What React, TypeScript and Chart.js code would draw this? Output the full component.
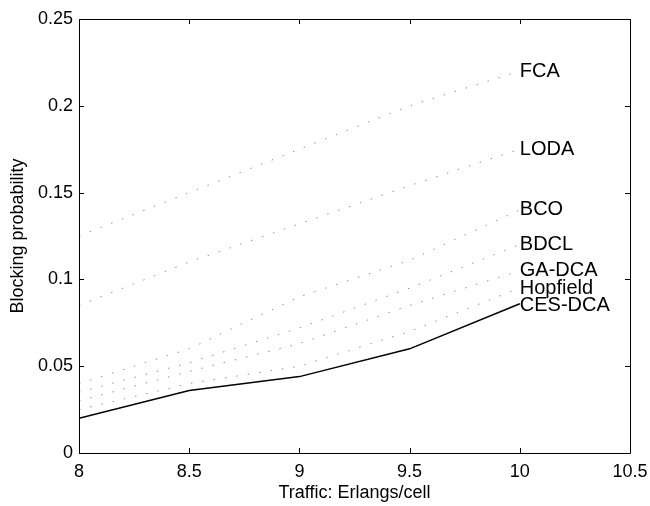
import React, { useEffect, useRef } from "react";
import { Chart, registerables } from "chart.js";

Chart.register(...registerables);

// ---- data ----
const traffic = [8, 8.5, 9, 9.5, 10];
const seriesNames = ["FCA", "LODA", "BCO", "BDCL", "GA-DCA", "Hopfield", "CES-DCA"];
const fca = [0.125, 0.15, 0.175, 0.2, 0.22];
const loda = [0.085, 0.11, 0.132, 0.154, 0.175];
const bco = [0.04, 0.06, 0.09, 0.111, 0.14];
const bdcl = [0.035, 0.052, 0.072, 0.095, 0.12];
const gaDca = [0.03, 0.047, 0.063, 0.085, 0.105];
const hopfield = [0.025, 0.04, 0.05, 0.07, 0.095];
const cesDca = [0.02, 0.036, 0.044, 0.06, 0.086];
const labelValues = [0.22, 0.175, 0.14, 0.12, 0.105, 0.095, 0.085];
const labelX = 10;
const xTicks = [8, 8.5, 9, 9.5, 10, 10.5];
const yTicks = [0, 0.05, 0.1, 0.15, 0.2, 0.25];
const xTitle = "Traffic: Erlangs/cell";
const yTitle = "Blocking probability";

const FONT = "'Liberation Sans', Arial, Helvetica, sans-serif";

export default function App() {
  const ref = useRef<HTMLCanvasElement | null>(null);

  useEffect(() => {
    document.body.style.margin = "0";
    const canvas = ref.current;
    if (!canvas) return;
    const allSeries = [fca, loda, bco, bdcl, gaDca, hopfield, cesDca];
    const datasets = allSeries.map((vals, i) => {
      const solid = i === allSeries.length - 1;
      return {
        label: seriesNames[i],
        data: traffic.map((x, j) => ({ x, y: vals[j] })),
        borderColor: solid ? "#000000" : "#909090",
        borderWidth: solid ? 1.5 : 1,
        borderDash: solid ? [] : [1.5, 10],
        pointRadius: 0,
        fill: false,
        tension: 0,
      };
    });

    const framePlugin = {
      id: "frame",
      afterDatasetsDraw(chart: any) {
        const { ctx, chartArea } = chart;
        const xs = chart.scales.x;
        const ys = chart.scales.y;
        const { left, right, top, bottom } = chartArea;
        ctx.save();
        ctx.strokeStyle = "#000";
        ctx.lineWidth = 1;
        ctx.beginPath();
        ctx.rect(Math.round(left) + 0.5, Math.round(top) + 0.5, Math.round(right - left), Math.round(bottom - top));
        ctx.stroke();
        const tl = 5;
        ctx.beginPath();
        xTicks.forEach((v) => {
          const px = Math.round(xs.getPixelForValue(v)) + 0.5;
          ctx.moveTo(px, bottom);
          ctx.lineTo(px, bottom - tl);
          ctx.moveTo(px, top);
          ctx.lineTo(px, top + tl);
        });
        yTicks.forEach((v) => {
          const py = Math.round(ys.getPixelForValue(v)) + 0.5;
          ctx.moveTo(left, py);
          ctx.lineTo(left + tl, py);
          ctx.moveTo(right, py);
          ctx.lineTo(right - tl, py);
        });
        ctx.stroke();
        // series labels
        ctx.fillStyle = "#000";
        ctx.font = `20px ${FONT}`;
        ctx.textAlign = "left";
        ctx.textBaseline = "middle";
        seriesNames.forEach((name, i) => {
          const px = xs.getPixelForValue(labelX);
          const py = ys.getPixelForValue(labelValues[i]);
          ctx.fillText(name, px, py);
        });
        ctx.restore();
      },
    };

    const chart = new Chart(canvas, {
      type: "line",
      data: { datasets: datasets as any },
      options: {
        animation: false,
        responsive: false,
        devicePixelRatio: 1,
        layout: { padding: { top: 19, right: 20, left: 0, bottom: 0 } },
        plugins: { legend: { display: false }, tooltip: { enabled: false } },
        scales: {
          x: {
            type: "linear",
            min: 8,
            max: 10.5,
            grid: { display: false, drawTicks: false },
            border: { display: false },
            afterBuildTicks: (s: any) => {
              s.ticks = xTicks.map((v) => ({ value: v }));
            },
            afterFit: (s: any) => {
              s.height = 53;
              s.paddingLeft = 0;
              s.paddingRight = 0;
            },
            ticks: {
              color: "#000",
              font: { family: FONT, size: 18 },
              padding: 8,
              maxRotation: 0,
              autoSkip: false,
              callback: (v: any) => String(v),
            },
            title: {
              display: true,
              text: xTitle,
              color: "#000",
              font: { family: FONT, size: 18 },
              padding: { top: 0, bottom: 2 },
            },
          },
          y: {
            type: "linear",
            min: 0,
            max: 0.25,
            grid: { display: false, drawTicks: false },
            border: { display: false },
            afterBuildTicks: (s: any) => {
              s.ticks = yTicks.map((v) => ({ value: v }));
            },
            afterFit: (s: any) => {
              s.width = 79;
              s.paddingTop = 0;
              s.paddingBottom = 0;
            },
            ticks: {
              color: "#000",
              font: { family: FONT, size: 18 },
              padding: 6,
              autoSkip: false,
              callback: (v: any) => String(Number(v.toFixed(2))),
            },
            title: {
              display: true,
              text: yTitle,
              color: "#000",
              font: { family: FONT, size: 18 },
              padding: { top: 7, bottom: 0 },
            },
          },
        },
      },
      plugins: [framePlugin],
    });
    return () => chart.destroy();
  }, []);

  return (
    <div style={{ position: "absolute", left: 0, top: 0, width: 650, height: 506, background: "#fff" }}>
      <canvas ref={ref} width={650} height={506} />
    </div>
  );
}
